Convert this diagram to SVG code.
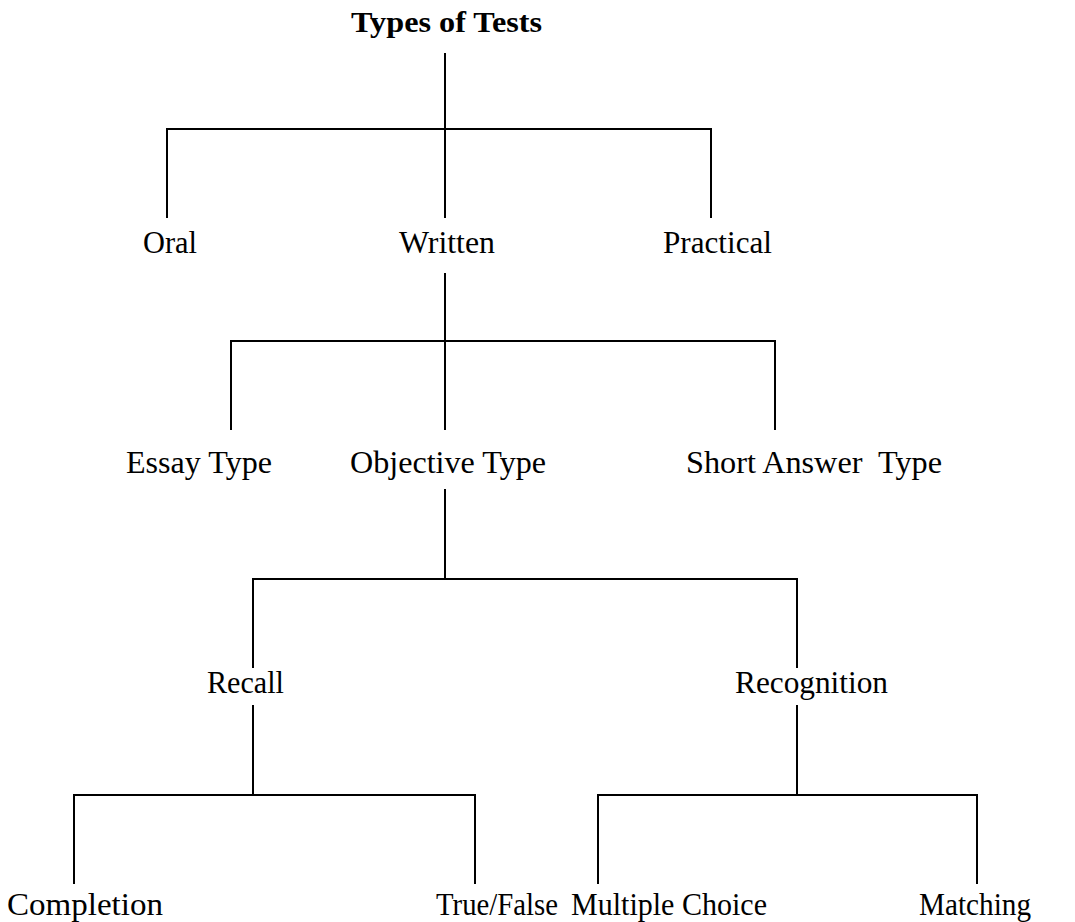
<svg xmlns="http://www.w3.org/2000/svg" width="1075" height="922" viewBox="0 0 1075 922">
<style>
  .lbl { font-family: 'Liberation Serif', 'Times New Roman', Times, serif; font-size: 32px; fill: #000; }
  .title { font-weight: bold; font-size: 30px; }
  .conn line { stroke: #000; stroke-width: 2; }
</style>
<rect width="1075" height="922" fill="#fff"/>
<g id="connectors" class="conn">
  <line x1="445" y1="53" x2="445" y2="129"/>
  <line x1="166" y1="129" x2="712" y2="129"/>
  <line x1="167" y1="129" x2="167" y2="218"/>
  <line x1="445" y1="129" x2="445" y2="218"/>
  <line x1="711" y1="129" x2="711" y2="218"/>
  <line x1="445" y1="273" x2="445" y2="341"/>
  <line x1="230" y1="341" x2="776" y2="341"/>
  <line x1="231" y1="341" x2="231" y2="430"/>
  <line x1="445" y1="341" x2="445" y2="430"/>
  <line x1="775" y1="341" x2="775" y2="430"/>
  <line x1="445" y1="489" x2="445" y2="579"/>
  <line x1="252" y1="579" x2="798" y2="579"/>
  <line x1="253" y1="579" x2="253" y2="668"/>
  <line x1="797" y1="579" x2="797" y2="668"/>
  <line x1="253" y1="705" x2="253" y2="795"/>
  <line x1="73" y1="795" x2="476" y2="795"/>
  <line x1="74" y1="795" x2="74" y2="884"/>
  <line x1="475" y1="795" x2="475" y2="884"/>
  <line x1="797" y1="705" x2="797" y2="795"/>
  <line x1="597" y1="795" x2="978" y2="795"/>
  <line x1="598" y1="795" x2="598" y2="884"/>
  <line x1="977" y1="795" x2="977" y2="884"/>
</g>
<g id="n-types"><text class="lbl title" x="351" y="32" textLength="191" lengthAdjust="spacingAndGlyphs">Types of Tests</text></g>
<g id="n-oral"><text class="lbl" x="143" y="253" textLength="54" lengthAdjust="spacingAndGlyphs">Oral</text></g>
<g id="n-written"><text class="lbl" x="399" y="253" textLength="96" lengthAdjust="spacingAndGlyphs">Written</text></g>
<g id="n-practical"><text class="lbl" x="663" y="253" textLength="109" lengthAdjust="spacingAndGlyphs">Practical</text></g>
<g id="n-essay"><text class="lbl" x="126" y="473" textLength="146" lengthAdjust="spacingAndGlyphs">Essay Type</text></g>
<g id="n-objective"><text class="lbl" x="350" y="473" textLength="196" lengthAdjust="spacingAndGlyphs">Objective Type</text></g>
<g id="n-short"><text class="lbl" x="686" y="473" textLength="256" lengthAdjust="spacingAndGlyphs" xml:space="preserve">Short Answer  Type</text></g>
<g id="n-recall"><text class="lbl" x="207" y="693" textLength="77" lengthAdjust="spacingAndGlyphs">Recall</text></g>
<g id="n-recognition"><text class="lbl" x="735" y="693" textLength="153" lengthAdjust="spacingAndGlyphs">Recognition</text></g>
<g id="n-completion"><text class="lbl" x="7" y="915" textLength="156" lengthAdjust="spacingAndGlyphs">Completion</text></g>
<g id="n-truefalse"><text class="lbl" x="436" y="915" textLength="122" lengthAdjust="spacingAndGlyphs">True/False</text></g>
<g id="n-multiple"><text class="lbl" x="571" y="915" textLength="196" lengthAdjust="spacingAndGlyphs">Multiple Choice</text></g>
<g id="n-matching"><text class="lbl" x="919" y="915" textLength="112" lengthAdjust="spacingAndGlyphs">Matching</text></g>
</svg>
